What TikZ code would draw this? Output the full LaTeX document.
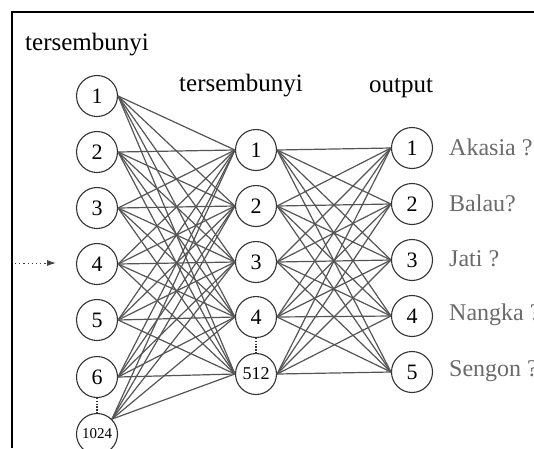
\documentclass[tikz,border=0pt]{standalone}
\usepackage{fontspec}
\setmainfont{Liberation Serif}
\usetikzlibrary{arrows.meta}
\definecolor{edgegray}{HTML}{555555}
\definecolor{labgray}{HTML}{6A6A6A}
\tikzset{
  neuron/.style={circle, draw=black!80, line width=1.1pt, minimum size=41pt, inner sep=0pt, font=\fontsize{22}{24}\selectfont},
  small/.style={font=\fontsize{18}{20}\selectfont},
  tiny/.style={font=\fontsize{15}{17}\selectfont},
  edge/.style={draw=edgegray, line width=1.2pt},
  title/.style={font=\fontsize{25}{29}\selectfont, anchor=base},
  outlab/.style={font=\fontsize{24}{28}\selectfont, text=labgray, anchor=west, inner sep=0pt},
  vdots/.style={draw=black!80, line width=1.3pt, dash pattern=on 1.3pt off 1.5pt}
}
\begin{document}
\begin{tikzpicture}[x=1pt,y=-1pt]
\useasboundingbox (0,0) rectangle (534,448);
\fill[white] (0,0) rectangle (534,448);
% frame
\draw[line width=1.4pt] (12,448) -- (12,12) -- (534,12);
% titles
\node[title, anchor=base west, inner sep=0pt] (t1) at (25,50) {tersembunyi};
\node[title, inner sep=0pt] (t2) at (241,91) {tersembunyi};
\node[title, inner sep=0pt] (t3) at (401,92) {output};
% input layer
\node[neuron] (i1) at (97,96) {1};
\node[neuron] (i2) at (97,152) {2};
\node[neuron] (i3) at (97,208) {3};
\node[neuron] (i4) at (97,264) {4};
\node[neuron] (i5) at (97,320) {5};
\node[neuron] (i6) at (97,377) {6};
\node[neuron, tiny] (i7) at (97,434) {1024};
% hidden layer
\node[neuron] (h1) at (256,150) {1};
\node[neuron] (h2) at (256,206) {2};
\node[neuron] (h3) at (256,262) {3};
\node[neuron] (h4) at (256,317) {4};
\node[neuron, small] (h5) at (256,374) {512};
% output layer
\node[neuron] (o1) at (412,148) {1};
\node[neuron] (o2) at (412,204) {2};
\node[neuron] (o3) at (412,260) {3};
\node[neuron] (o4) at (412,316) {4};
\node[neuron] (o5) at (412,372) {5};
% output labels
\node[outlab] (l1) at (449,147) {Akasia ?};
\node[outlab] (l2) at (449,203) {Balau?};
\node[outlab] (l3) at (449,259) {Jati ?};
\node[outlab] (l4) at (449,315) {Nangka ?};
\node[outlab] (l5) at (449,371) {Sengon ?};
% edges input -> hidden
\foreach \i in {1,...,6}{
  \foreach \h in {1,...,5}{
    \draw[edge] (i\i.east) -- (h\h.west);
  }
}
\foreach \h in {1,...,5}{
  \draw[edge] (i7.north east) -- (h\h.west);
}
% edges hidden -> output
\foreach \h in {1,...,5}{
  \foreach \o in {1,...,5}{
    \draw[edge] (h\h.east) -- (o\o.west);
  }
}
% vertical dots
\draw[vdots] (i6.south) -- (i7.north);
\draw[vdots] (h4.south) -- (h5.north);
% input arrow
\coordinate (a0) at (15,263);
\coordinate (a1) at (56,263);
\draw[draw=black!75, line width=1pt, dash pattern=on 1.2pt off 3pt, -{Latex[length=9pt,width=6pt]}] (a0) -- (a1);
\end{tikzpicture}
\end{document}
